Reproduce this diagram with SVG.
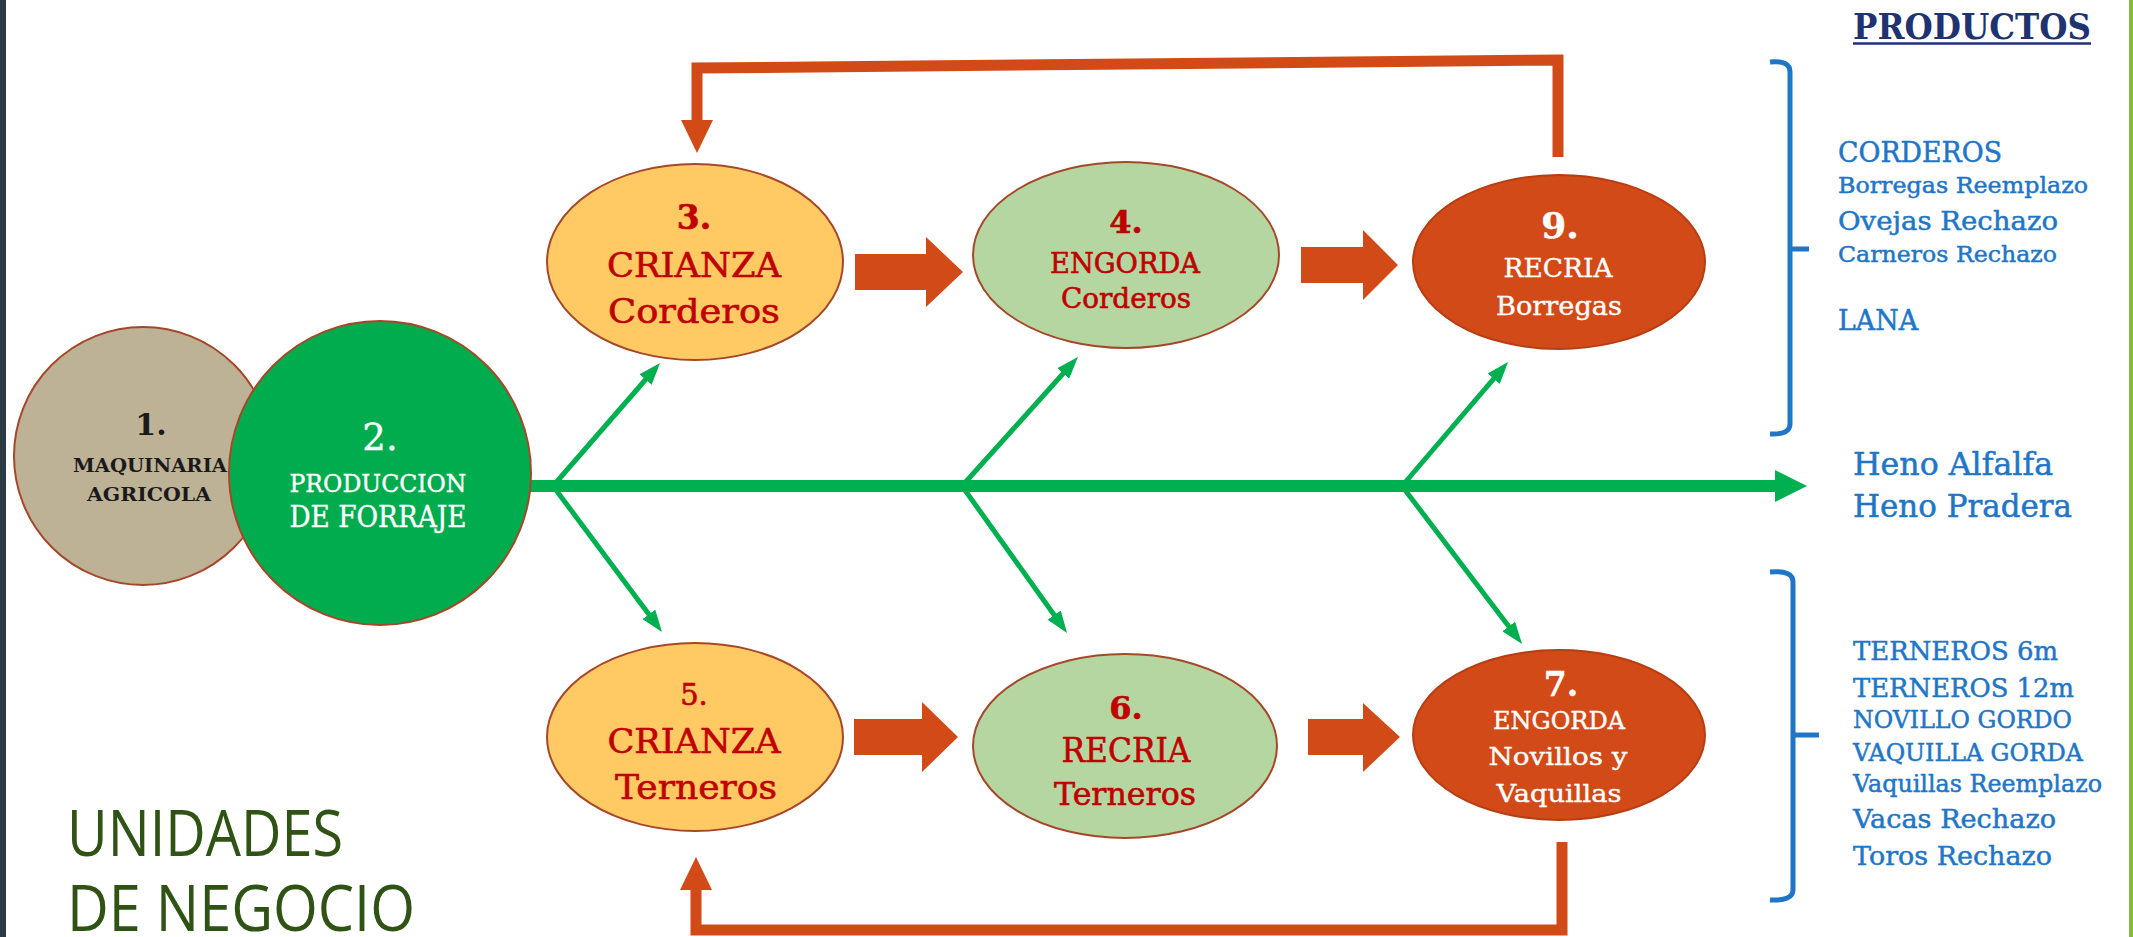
<svg xmlns="http://www.w3.org/2000/svg" width="2133" height="937" viewBox="0 0 2133 937">
<defs>
<style>
.slab{font-family:"DejaVu Serif","Liberation Serif",serif;}
.sans{font-family:"Open Sans","Noto Sans","Liberation Sans",sans-serif;}
.red{fill:#C00000;stroke:#C00000;stroke-width:0.6;}
.wht{fill:#FFFFFF;stroke:#FFFFFF;stroke-width:0.4;}
.blk{fill:#1A1A1A;}
.blu{fill:#1F76C7;stroke:#1F76C7;stroke-width:0.5;}
.node{stroke:#A5482A;stroke-width:2;}
.fb{fill:none;stroke:#D24A17;stroke-width:11;stroke-linejoin:miter;}
.fbh{fill:#D24A17;}
.blk-arrow{fill:#D24A17;}
.br{fill:none;stroke:#1F76C7;stroke-width:5;}
.gl{stroke:#00B050;stroke-width:5;fill:none;}
</style>
<marker id="ga" markerUnits="userSpaceOnUse" markerWidth="22" markerHeight="16" refX="14" refY="8" orient="auto">
<path d="M0,0 L22,8 L0,16 z" fill="#00B050"/>
</marker>
</defs>
<rect x="0" y="0" width="2133" height="937" fill="#FFFFFF"/>
<rect x="0" y="0" width="6" height="937" fill="#2D3B45"/>
<rect x="2129" y="0" width="4" height="937" fill="#86BA3B"/>

<g id="connectors">
<rect x="528" y="480" width="1250" height="12" fill="#00B050"/>
<path d="M1775,470 L1807,486 L1775,502 z" fill="#00B050"/>
<line class="gl" x1="553" y1="486" x2="654.8" y2="369" marker-end="url(#ga)"/>
<line class="gl" x1="553" y1="486" x2="657.2" y2="625.6" marker-end="url(#ga)"/>
<line class="gl" x1="962" y1="486" x2="1072.6" y2="363" marker-end="url(#ga)"/>
<line class="gl" x1="962" y1="486" x2="1062.4" y2="626.5" marker-end="url(#ga)"/>
<line class="gl" x1="1402" y1="486" x2="1502.8" y2="368.1" marker-end="url(#ga)"/>
<line class="gl" x1="1402" y1="486" x2="1517.2" y2="637.6" marker-end="url(#ga)"/>
<path class="blk-arrow" d="M855,254 L926,254 L926,237 L963,272 L926,307 L926,290 L855,290 z"/>
<path class="blk-arrow" d="M1301,247 L1363,247 L1363,230 L1398,265 L1363,300 L1363,283 L1301,283 z"/>
<path class="blk-arrow" d="M854,719 L922,719 L922,702 L958,737 L922,772 L922,755 L854,755 z"/>
<path class="blk-arrow" d="M1308,719 L1363,719 L1363,703 L1400,737 L1363,772 L1363,755 L1308,755 z"/>
<polyline class="fb" points="1558,157 1558,60 697,68 697,124"/>
<path class="fbh" d="M681,120 L713,120 L697,153 z"/>
<polyline class="fb" points="1562,842 1562,930 696,930 696,886"/>
<path class="fbh" d="M680,890 L712,890 L696,857 z"/>
<path class="br" d="M1770,62 Q1790,60 1790,72 L1790,424 Q1790,435 1770,434"/>
<path class="br" d="M1790,249 L1809,249"/>
<path class="br" d="M1770,572 Q1793,570 1793,582 L1793,890 Q1793,901 1770,900"/>
<path class="br" d="M1793,735 L1819,735"/>
</g>

<g id="node1">
<ellipse class="node" cx="143" cy="456" rx="129" ry="129" fill="#BDB196"/>
<text class="slab blk" x="151" y="435" font-size="30" font-weight="bold" text-anchor="middle">1.</text>
<text class="slab blk" x="150" y="472" font-size="19" font-weight="bold" text-anchor="middle" textLength="154" lengthAdjust="spacingAndGlyphs">MAQUINARIA</text>
<text class="slab blk" x="149" y="501" font-size="19" font-weight="bold" text-anchor="middle" textLength="124" lengthAdjust="spacingAndGlyphs">AGRICOLA</text>
</g>

<g id="node2">
<ellipse class="node" cx="380" cy="473" rx="151" ry="152" fill="#00AC4E"/>
<text class="slab wht" x="380" y="450" font-size="37" text-anchor="middle">2.</text>
<text class="slab wht" x="378" y="492" font-size="25" text-anchor="middle" textLength="177" lengthAdjust="spacingAndGlyphs">PRODUCCION</text>
<text class="slab wht" x="378" y="527" font-size="30" text-anchor="middle" textLength="177" lengthAdjust="spacingAndGlyphs">DE FORRAJE</text>
</g>

<g id="node3">
<ellipse class="node" cx="695" cy="262" rx="148" ry="98" fill="#FFC964"/>
<text class="slab red" x="694" y="229" font-size="33" font-weight="bold" text-anchor="middle">3.</text>
<text class="slab red" x="694" y="277" font-size="34" text-anchor="middle" textLength="174" lengthAdjust="spacingAndGlyphs">CRIANZA</text>
<text class="slab red" x="694" y="323" font-size="34" text-anchor="middle" textLength="172" lengthAdjust="spacingAndGlyphs">Corderos</text>
</g>

<g id="node4">
<ellipse class="node" cx="1126" cy="255" rx="153" ry="93" fill="#B5D6A0"/>
<text class="slab red" x="1126" y="233" font-size="32" font-weight="bold" text-anchor="middle">4.</text>
<text class="slab red" x="1125" y="273" font-size="27" text-anchor="middle" textLength="150" lengthAdjust="spacingAndGlyphs">ENGORDA</text>
<text class="slab red" x="1126" y="308" font-size="27" text-anchor="middle" textLength="130" lengthAdjust="spacingAndGlyphs">Corderos</text>
</g>

<g id="node9">
<ellipse cx="1559" cy="262" rx="146" ry="87" fill="#D24A17" stroke="#B53E12" stroke-width="2"/>
<text class="slab wht" x="1560" y="238" font-size="36" font-weight="bold" text-anchor="middle">9.</text>
<text class="slab wht" x="1558" y="277" font-size="26" text-anchor="middle" textLength="109" lengthAdjust="spacingAndGlyphs">RECRIA</text>
<text class="slab wht" x="1559" y="315" font-size="26" text-anchor="middle" textLength="126" lengthAdjust="spacingAndGlyphs">Borregas</text>
</g>

<g id="node5">
<ellipse class="node" cx="695" cy="737" rx="148" ry="94" fill="#FFC964"/>
<text class="slab red" x="694" y="705" font-size="29" text-anchor="middle">5.</text>
<text class="slab red" x="694" y="753" font-size="34" text-anchor="middle" textLength="173" lengthAdjust="spacingAndGlyphs">CRIANZA</text>
<text class="slab red" x="696" y="799" font-size="34" text-anchor="middle" textLength="162" lengthAdjust="spacingAndGlyphs">Terneros</text>
</g>

<g id="node6">
<ellipse class="node" cx="1125" cy="746" rx="152" ry="92" fill="#B5D6A0"/>
<text class="slab red" x="1126" y="719" font-size="32" font-weight="bold" text-anchor="middle">6.</text>
<text class="slab red" x="1126" y="762" font-size="34" text-anchor="middle" textLength="129" lengthAdjust="spacingAndGlyphs">RECRIA</text>
<text class="slab red" x="1125" y="805" font-size="32" text-anchor="middle" textLength="142" lengthAdjust="spacingAndGlyphs">Terneros</text>
</g>

<g id="node7">
<ellipse cx="1559" cy="735" rx="146" ry="85" fill="#D24A17" stroke="#B53E12" stroke-width="2"/>
<text class="slab wht" x="1561" y="696" font-size="33" font-weight="bold" text-anchor="middle">7.</text>
<text class="slab wht" x="1559" y="729" font-size="24" text-anchor="middle" textLength="132" lengthAdjust="spacingAndGlyphs">ENGORDA</text>
<text class="slab wht" x="1558" y="765" font-size="25" text-anchor="middle" textLength="139" lengthAdjust="spacingAndGlyphs">Novillos y</text>
<text class="slab wht" x="1559" y="802" font-size="25" text-anchor="middle" textLength="125" lengthAdjust="spacingAndGlyphs">Vaquillas</text>
</g>

<g id="productos">
<text class="slab" x="1853" y="39" font-size="36" font-weight="bold" fill="#1F3370" textLength="238" lengthAdjust="spacingAndGlyphs">PRODUCTOS</text>
<line x1="1853" y1="43.5" x2="2091" y2="43.5" stroke="#1F3370" stroke-width="2.5"/>
</g>

<g id="productos-ovinos">
<text class="slab blu" x="1838" y="162" font-size="27" textLength="164" lengthAdjust="spacingAndGlyphs">CORDEROS</text>
<text class="slab blu" x="1838" y="193" font-size="23" textLength="250" lengthAdjust="spacingAndGlyphs">Borregas Reemplazo</text>
<text class="slab blu" x="1838" y="230" font-size="26" textLength="220" lengthAdjust="spacingAndGlyphs">Ovejas Rechazo</text>
<text class="slab blu" x="1838" y="262" font-size="23" textLength="219" lengthAdjust="spacingAndGlyphs">Carneros Rechazo</text>
<text class="slab blu" x="1838" y="330" font-size="27" textLength="80" lengthAdjust="spacingAndGlyphs">LANA</text>
</g>

<g id="productos-heno">
<text class="slab blu" x="1853" y="475" font-size="31" textLength="200" lengthAdjust="spacingAndGlyphs">Heno Alfalfa</text>
<text class="slab blu" x="1853" y="517" font-size="31" textLength="219" lengthAdjust="spacingAndGlyphs">Heno Pradera</text>
</g>

<g id="productos-bovinos">
<text class="slab blu" x="1853" y="660" font-size="26" textLength="205" lengthAdjust="spacingAndGlyphs">TERNEROS 6m</text>
<text class="slab blu" x="1853" y="697" font-size="26" textLength="221" lengthAdjust="spacingAndGlyphs">TERNEROS 12m</text>
<text class="slab blu" x="1853" y="728" font-size="24" textLength="219" lengthAdjust="spacingAndGlyphs">NOVILLO GORDO</text>
<text class="slab blu" x="1853" y="761" font-size="24" textLength="230" lengthAdjust="spacingAndGlyphs">VAQUILLA GORDA</text>
<text class="slab blu" x="1853" y="792" font-size="24" textLength="249" lengthAdjust="spacingAndGlyphs">Vaquillas Reemplazo</text>
<text class="slab blu" x="1853" y="828" font-size="26" textLength="203" lengthAdjust="spacingAndGlyphs">Vacas Rechazo</text>
<text class="slab blu" x="1853" y="865" font-size="26" textLength="199" lengthAdjust="spacingAndGlyphs">Toros Rechazo</text>
</g>

<g id="titulo">
<text class="sans" x="67" y="856" font-size="64" fill="#2E5314" textLength="276" lengthAdjust="spacingAndGlyphs">UNIDADES</text>
<text class="sans" x="67" y="931" font-size="64" fill="#2E5314" textLength="348" lengthAdjust="spacingAndGlyphs">DE NEGOCIO</text>
</g>
</svg>
